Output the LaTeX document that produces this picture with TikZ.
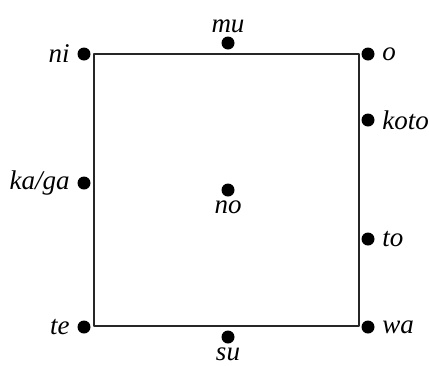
\documentclass[tikz,border=0pt]{standalone}
\usepackage{fontspec}
\setmainfont{Liberation Serif}

\begin{document}
\begin{tikzpicture}[x=0.5pt,y=-0.5pt,line cap=round,line join=round,
  font=\fontsize{13.5}{15}\selectfont\itshape,
  every label/.style={inner ysep=1.5pt,inner xsep=3.5pt},
  dot/.style={circle,fill=black,inner sep=0pt,minimum size=6.5pt}]
  \useasboundingbox (0,0) rectangle (429,365);
  \draw[line width=0.55pt,black!85] (94,54) rectangle (359,326);
  % corners
  \node[dot,label=left:ni] (ni) at (84,54) {};
  \node[dot,label=right:o] (o) at (368,54) {};
  \node[dot,label=left:te] (te) at (84,327) {};
  \node[dot,label=right:wa] (wa) at (368,327) {};
  % sides
  \node[dot,label=above:mu] (mu) at (228,43) {};
  \node[dot,label=below:su] (su) at (228,337) {};
  \node[dot,label=left:ka/ga] (kaga) at (84,183) {};
  \node[dot,label=right:koto] (koto) at (368,120) {};
  \node[dot,label=right:to] (to) at (368,239) {};
  % centre
  \node[dot,label=below:no] (no) at (228,190) {};
\end{tikzpicture}
\end{document}
